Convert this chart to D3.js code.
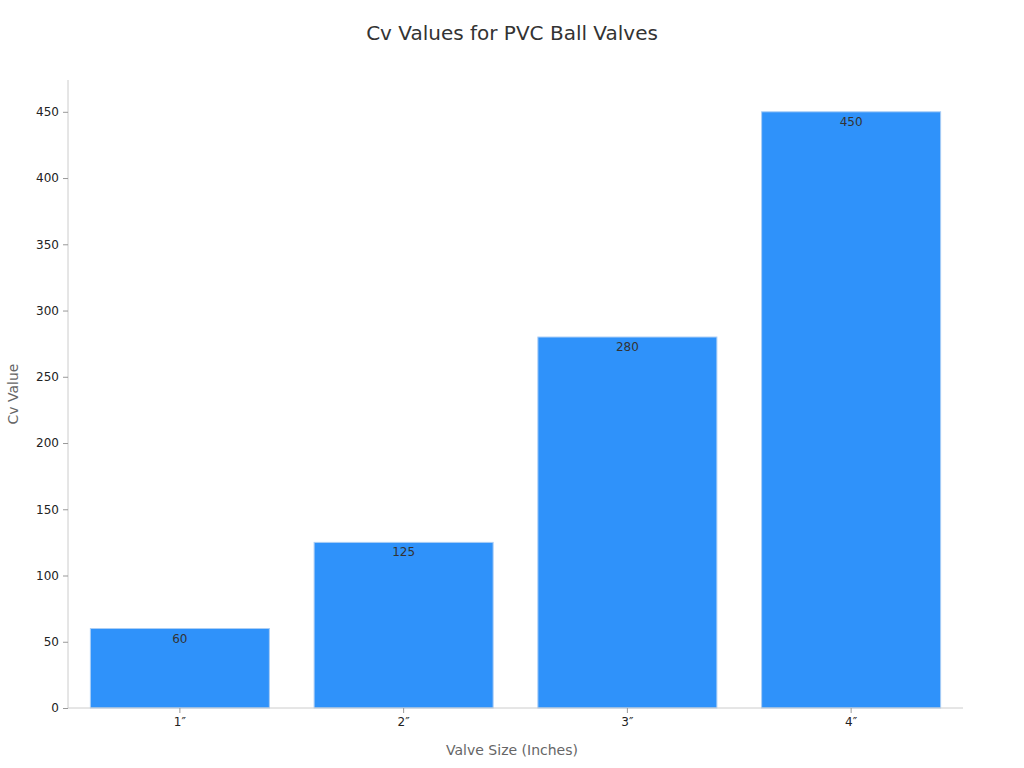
<!DOCTYPE html>
<html><head><meta charset="utf-8">
<script src="https://cdn.jsdelivr.net/npm/d3@7"></script>
<style>body{margin:0;background:#fff;font-family:"DejaVu Sans",sans-serif}</style>
</head><body><svg id="c" width="1024" height="768"></svg>
<script>
const categories = ["1″","2″","3″","4″"];
const values = [60,125,280,450];
const yTicks = [0,50,100,150,200,250,300,350,400,450];

const svg = d3.select("#c");
const m = {l:68, r:963, t:80, b:708};
const x = d3.scaleBand().domain(categories).range([m.l,m.r]).paddingInner(0.2).paddingOuter(0.1);
const y = d3.scaleLinear().domain([0,474]).range([m.b,m.t]);

svg.append("text").attr("x",512).attr("y",40).attr("text-anchor","middle")
  .attr("font-size",20).attr("fill","#333").text("Cv Values for PVC Ball Valves");

svg.selectAll("rect.bar").data(values).enter().append("rect")
  .attr("x",(d,i)=>x(categories[i])).attr("width",x.bandwidth())
  .attr("y",d=>y(d)).attr("height",d=>y(0)-y(d))
  .attr("fill","#2f92fa").attr("stroke","#a9cdf5").attr("stroke-width",1);

svg.selectAll("text.lbl").data(values).enter().append("text")
  .attr("x",(d,i)=>x(categories[i])+x.bandwidth()/2).attr("y",d=>y(d)+14)
  .attr("text-anchor","middle").attr("font-size",12).attr("fill","#333").text(d=>d);

const ya = svg.append("g").attr("transform",`translate(${m.l},0)`)
  .call(d3.axisLeft(y).tickValues(yTicks).tickSize(5).tickPadding(4));
const xa = svg.append("g").attr("transform",`translate(0,${m.b})`)
  .call(d3.axisBottom(x).tickSize(5).tickPadding(4).tickSizeOuter(0));
[ya,xa].forEach(a=>{
  a.selectAll("path").attr("stroke","#ccc");
  a.selectAll("line").attr("stroke","#999");
  a.selectAll("text").attr("font-size",12).attr("fill","#222").attr("font-family","DejaVu Sans");
});
ya.select("path").attr("d",`M0,${m.t}V${m.b}`);
xa.select("path").attr("d",`M${m.l},0H${m.r}`);

svg.append("text").attr("x",512).attr("y",755).attr("text-anchor","middle")
  .attr("font-size",14).attr("fill","#666").text("Valve Size (Inches)");
svg.append("text").attr("transform","translate(18,394) rotate(-90)").attr("text-anchor","middle")
  .attr("font-size",14).attr("fill","#666").text("Cv Value");
</script></body></html>
